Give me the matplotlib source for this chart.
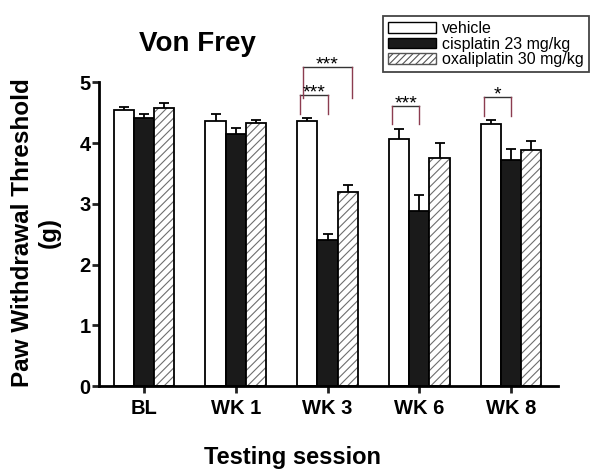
import numpy as np
import matplotlib
matplotlib.use("Agg")
import matplotlib.pyplot as plt
import matplotlib.patches as mpatches

plt.rcParams['font.family'] = ['Liberation Sans', 'DejaVu Sans']
plt.rcParams['hatch.linewidth'] = 0.8

# data
sessions = ["BL", "WK 1", "WK 3", "WK 6", "WK 8"]
groups = ["vehicle", "cisplatin 23 mg/kg", "oxaliplatin 30 mg/kg"]
vehicle = [4.54, 4.36, 4.36, 4.07, 4.31]
vehicle_err = [0.05, 0.12, 0.05, 0.17, 0.07]
cisplatin = [4.41, 4.15, 2.41, 2.89, 3.73]
cisplatin_err = [0.07, 0.10, 0.09, 0.25, 0.18]
oxaliplatin = [4.58, 4.33, 3.19, 3.76, 3.89]
oxaliplatin_err = [0.09, 0.06, 0.12, 0.25, 0.15]

# significance vs vehicle: session index, label
sig_cis = [(2, "***"), (3, "***"), (4, "*")]
sig_oxa = [(2, "***")]

fig = plt.figure(figsize=(5.9, 4.69), dpi=100)
ax = fig.add_axes([99 / 590, 1 - 386 / 469, (558 - 99) / 590, (386 - 82.5) / 469])

x = np.arange(len(sessions))
w = 0.22
lw = 1.3


def draw_err(xpos, vals, errs):
    eb = ax.errorbar(xpos, vals, yerr=[np.zeros(len(vals)), errs], fmt='none',
                     ecolor='black', elinewidth=lw, capsize=3.3, capthick=lw, zorder=1)
    eb[1][0].set_visible(False)  # only upper caps


draw_err(x - w, vehicle, vehicle_err)
draw_err(x, cisplatin, cisplatin_err)
draw_err(x + w, oxaliplatin, oxaliplatin_err)

ax.bar(x - w, vehicle, w, color='white', edgecolor='black', linewidth=lw, zorder=2)
ax.bar(x, cisplatin, w, color='#1a1a1a', edgecolor='black', linewidth=lw, zorder=2)
# hatch in grey, outline in black
ax.bar(x + w, oxaliplatin, w, color='white', edgecolor='#6e6e6e', hatch='////',
       linewidth=0, zorder=2)
ax.bar(x + w, oxaliplatin, w, fill=False, edgecolor='black', linewidth=lw, zorder=3)


def bracket(x0, x1, top, drop, label):
    ax.plot([x0, x1], [top, top], color='#333333', lw=1.0, clip_on=False)
    ax.plot([x0, x0], [top, top - drop], color='#8c3c50', lw=1.0, clip_on=False)
    ax.plot([x1, x1], [top, top - drop], color='#8c3c50', lw=1.0, clip_on=False)
    ax.text((x0 + x1) / 2, top - 0.04, label, ha='center', va='baseline', fontsize=14)


for i, lab in sig_cis:
    top = vehicle[i] + vehicle_err[i] + 0.38
    bracket(x[i] - 0.30, x[i], top, 0.31, lab)

for i, lab in sig_oxa:
    top = vehicle[i] + vehicle_err[i] + 0.84
    bracket(x[i] - 0.27, x[i] + 0.27, top, 0.50, lab)

ax.set_xlim(-0.49, 4.51)
ax.set_ylim(0, 5)
ax.set_xticks(x)
ax.set_xticklabels(sessions, fontsize=14.5, fontweight='bold')
ax.set_yticks(range(6))
ax.set_yticklabels([str(v) for v in range(6)], fontsize=14.5, fontweight='bold')
ax.tick_params(axis='both', direction='out', length=5, width=2, color='#222222')
ax.tick_params(axis='x', pad=4)
ax.tick_params(axis='y', pad=1)

ax.spines['top'].set_visible(False)
ax.spines['right'].set_visible(False)
ax.spines['left'].set_linewidth(2)
ax.spines['bottom'].set_linewidth(2)
ax.spines['left'].set_bounds(0, 5)

fig.text(197 / 590, 1 - 51 / 469, "Von Frey", ha='center', va='baseline',
         fontsize=20, fontweight='bold')
fig.text(0.061, 0.505, "Paw Withdrawal Threshold\n(g)", rotation=90, ha='center',
         va='center', multialignment='center', fontsize=17.5, fontweight='bold',
         linespacing=1.25)
fig.text(292 / 590, 1 - 464 / 469, "Testing session", ha='center', va='baseline',
         fontsize=17, fontweight='bold')

handles = [
    mpatches.Patch(facecolor='white', edgecolor='black', linewidth=1.0),
    mpatches.Patch(facecolor='#1a1a1a', edgecolor='black', linewidth=1.0),
    mpatches.Patch(facecolor='white', edgecolor='#555555', hatch='/////', linewidth=1.0),
]
leg = fig.legend(handles, groups, loc='upper right', bbox_to_anchor=(0.998, 1 - 16 / 469),
                 fontsize=11.5, handlelength=3.0, handleheight=0.65, handletextpad=0.4,
                 labelspacing=0.05, borderpad=0.3, borderaxespad=0, fancybox=False,
                 framealpha=1)
leg.get_frame().set_edgecolor('#444444')
leg.get_frame().set_linewidth(1.3)

fig.savefig("out.png", dpi=100)
